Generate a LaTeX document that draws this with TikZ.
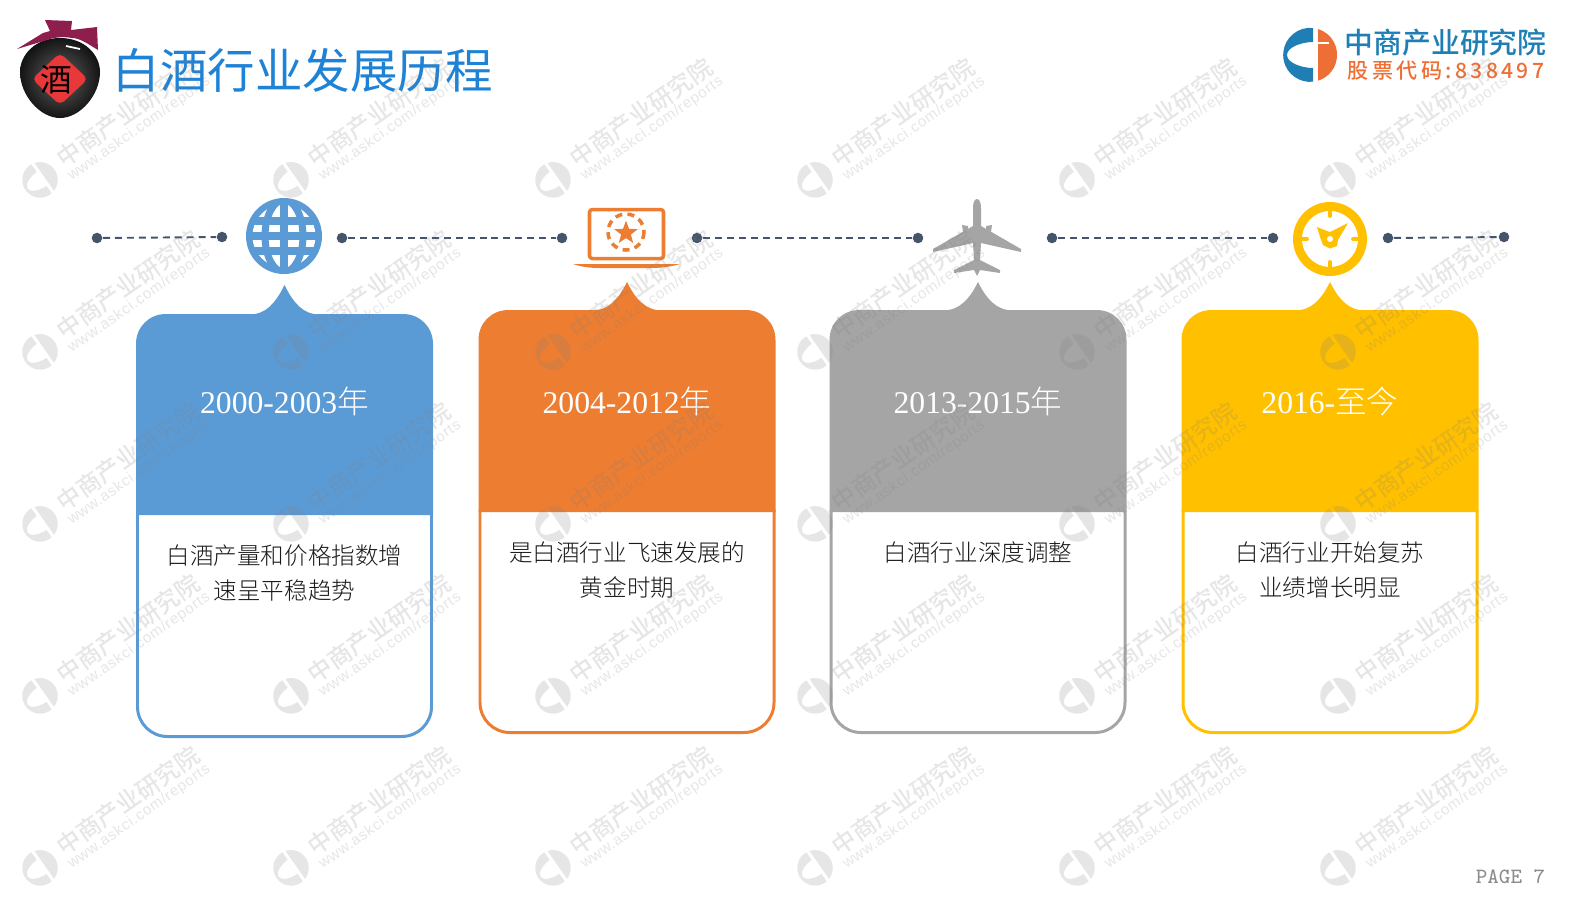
\documentclass[tikz,border=0pt]{standalone}
\usepackage{fontspec}
\usepackage{xcolor}
\usetikzlibrary{shapes.geometric}
\setmainfont{Liberation Serif}
\newfontfamily\cjk{Noto Sans CJK SC Light}
\newfontfamily\cjkmid{Noto Sans CJK SC}
\newfontfamily\cjkbold{Noto Sans CJK SC Medium}
\newfontfamily\cjkspaced[LetterSpace=16]{Noto Sans CJK SC Medium}
\newfontfamily\urlfont[LetterSpace=5]{Liberation Sans}
\definecolor{mblue}{HTML}{5B9BD5}
\definecolor{morange}{HTML}{ED7D31}
\definecolor{mgray}{HTML}{A5A5A5}
\definecolor{myellow}{HTML}{FFC000}
\definecolor{linegray}{HTML}{44546A}
\definecolor{titleblue}{HTML}{1E83D6}
\definecolor{logoblue}{HTML}{1F7FB5}
\definecolor{logoorange}{HTML}{EE6F35}
\definecolor{jarcloth}{HTML}{8E1F4C}
\definecolor{jarred}{HTML}{E8383A}
\tikzset{
  dotnode/.style = {circle, fill = linegray, inner sep = 0pt, minimum size = 3pt},
  timeline/.style = {linegray, line width = 0.55pt, dash pattern = on 2pt off 1.4pt},
  yearlabel/.style = {white, font = \fontsize{9}{11}\selectfont},
  bodylabel/.style = {black!90, align = center, font = \cjk\fontsize{6.7}{9.7}\selectfont},
  wmark/.style = {gray, opacity = 0.2},
}
\newcommand{\logomark}[2]{
  \fill[#1] (3,-27) arc[start angle = -84, end angle = -276, radius = 27] -- (3,13)
    .. controls (-8,13) and (-23,8) .. (-23,0) .. controls (-23,-8) and (-8,-13) .. (3,-13) -- cycle;
  \fill[#2] (8,-26) arc[start angle = -73, end angle = 73, radius = 27] -- cycle;
}
\begin{document}
\begin{tikzpicture}[x = 0.01cm, y = -0.01cm]
\useasboundingbox (0,0) rectangle (1587,914);

% jar
\shade[inner color = black!62, outer color = black!92] (60,38) .. controls (85,38) and (100,55) .. (100,72) .. controls (100,95) and (80,118) .. (60,118)
  .. controls (40,118) and (20,95) .. (20,72) .. controls (20,55) and (35,38) .. (60,38);
\fill[jarcloth] (45,20) -- (72,21) -- (71,30) -- (97,27) -- (98,50) .. controls (88,44) and (80,38) .. (72,38) .. controls (62,36) and (52,38) .. (47,40) -- (17,49) -- (43,33) -- (50,31) -- cycle;
\draw[white, line width = 0.5pt] (66,46) -- (80,49);
\fill[jarred, rounded corners = 1.5pt] (60,53) -- (88,79) -- (60,105) -- (32,79) -- cycle;
\node (jarmark) at (56,80) {\cjkmid\fontsize{9}{9}\selectfont 酒};
\node[titleblue, anchor = west, inner sep = 0pt] (title) at (112,70) {\cjkmid\fontsize{13.5}{15}\selectfont 白酒行业发展历程};

% company mark
\begin{scope}[shift = {(1310,55)}]
\logomark{logoblue}{logoorange}
\draw[white, line width = 0.4pt] (8,-12) -- (19,-12);
\end{scope}
\node[logoblue, anchor = west, inner sep = 0pt] (company) at (1344,43) {\cjkbold\fontsize{8.2}{10}\selectfont 中商产业研究院};
\node[logoorange, anchor = west, inner sep = 0pt] (stock) at (1347,71) {\cjkspaced\fontsize{6}{8}\selectfont 股票代码:838497};

% timeline
\node[dotnode] (d1) at (97,238) {};
\node[dotnode] (d2) at (222,237) {};
\node[dotnode] (d3) at (342,238) {};
\node[dotnode] (d4) at (562,238) {};
\node[dotnode] (d5) at (697,238) {};
\node[dotnode] (d6) at (918,238) {};
\node[dotnode] (d7) at (1052,238) {};
\node[dotnode] (d8) at (1273,238) {};
\node[dotnode] (d9) at (1388,238) {};
\node[dotnode] (d10) at (1504,237) {};
\draw[timeline] (d1) -- (d2);
\draw[timeline] (d3) -- (d4);
\draw[timeline] (d5) -- (d6);
\draw[timeline] (d7) -- (d8);
\draw[timeline] (d9) -- (d10);

% globe
\begin{scope}[shift = {(284,236)}]
\fill[mblue] (0,0) circle (38);
\fill[white] (0,0) circle (31.5);
\begin{scope}
\clip (0,0) circle (33);
\draw[mblue, line width = 2pt] (0,-38) -- (0,38) (-38,-15) -- (38,-15) (-38,0) -- (38,0) (-38,15) -- (38,15);
\draw[mblue, line width = 2pt] (0,0) ellipse (19 and 36);
\draw[mblue, line width = 1.8pt] (-34,-23) -- (-15,-33) (34,-23) -- (15,-33) (-34,23) -- (-15,33) (34,23) -- (15,33);
\end{scope}
\end{scope}

% laptop
\draw[morange, line width = 1pt, rounded corners = 0.8pt] (589.5,209.5) rectangle (663.5,258.5);
\fill[morange] (573,264) -- (680,264) .. controls (670,267) and (660,268) .. (650,268) -- (600,268) .. controls (590,268) and (582,267) .. (573,264) -- cycle;
\draw[morange, line width = 1pt, dash pattern = on 2pt off 1.5pt] (626,232) circle (18);
\node[star, star points = 5, star point ratio = 2.4, fill = morange, inner sep = 0pt, minimum size = 7pt] (laptopstar) at (626,233) {};

% plane
\fill[mgray] (977,199) .. controls (980,199) and (981,204) .. (981,208) -- (981,226) -- (1021,249) -- (1021,252) -- (981,243)
  -- (980,260) -- (1000,270) -- (1000,273) -- (980,270) -- (977,276) -- (974,270) -- (954,273) -- (954,270) -- (974,260)
  -- (973,243) -- (933,252) -- (933,249) -- (973,226) -- (973,208) .. controls (973,204) and (974,199) .. (977,199) -- cycle;
\fill[mgray] (962,225) -- (968,226) -- (968,230) -- (963,232) -- cycle (992,225) -- (986,226) -- (986,230) -- (991,232) -- cycle;

% clock
\begin{scope}[shift = {(1330,239)}]
\draw[myellow, line width = 2.55pt] (0,0) circle (32.5);
\draw[myellow, line width = 1.1pt, line cap = round] (0,-28) -- (0,-23) (0,28) -- (0,23) (-28,0) -- (-23,0) (28,0) -- (23,0);
\fill[myellow] (-13,-12) -- (-3,-8) -- (0,-7) -- (18,-16) -- (8,1) -- (7,7) -- (0,9.5) -- (-7,6) -- (-10,-2) -- cycle;
\fill[white] (0,0) circle (3);
\end{scope}

% cards
\foreach \cname/\cx/\ytop/\ytip/\ybar/\ybot/\col/\ty/\years/\body in {
  a/284.5/314/285/515/738/mblue/573/2000-2003{\cjk 年}/{白酒产量和价格指数增\\速呈平稳趋势},
  b/627/310/282/512/734/morange/570/2004-2012{\cjk 年}/{是白酒行业飞速发展的\\黄金时期},
  c/978/310/282/512/734/mgray/553/2013-2015{\cjk 年}/{白酒行业深度调整},
  d/1330/310/282/512/734/myellow/570/2016-{\cjk 至今}/{白酒行业开始复苏\\业绩增长明显}}{
  \draw[\col, line width = 0.85pt, fill = white, rounded corners = 8.5pt] (\cx-147,\ybar-2) -- (\cx-147,\ybot-1.5) -- (\cx+147,\ybot-1.5) -- (\cx+147,\ybar-2);
  \fill[\col] (\cx-148.5,\ybar) -- (\cx-148.5,\ytop+30) .. controls (\cx-148.5,\ytop+13) and (\cx-135.5,\ytop) .. (\cx-118.5,\ytop)
    -- (\cx-30,\ytop) .. controls (\cx-14,\ytop-2) and (\cx-5,\ytip+10) .. (\cx,\ytip)
    .. controls (\cx+5,\ytip+10) and (\cx+14,\ytop-2) .. (\cx+30,\ytop)
    -- (\cx+118.5,\ytop) .. controls (\cx+135.5,\ytop) and (\cx+148.5,\ytop+13) .. (\cx+148.5,\ytop+30) -- (\cx+148.5,\ybar) -- cycle;
  \node[yearlabel] (year\cname) at (\cx,401) {\years};
  \node[bodylabel] (body\cname) at (\cx,\ty) {\body};
}

\node[gray!90, anchor = east, inner sep = 0pt] (page) at (1546,877) {\fontsize{6.2}{8}\selectfont\ttfamily PAGE 7};

% watermark
\foreach \wx in {40,291,553,815,1077,1338}{
  \foreach \wy in {180,352,524,696,868}{
    \begin{scope}[shift = {(\wx,\wy)}, rotate = 35, scale = 0.66, opacity = 0.2]
    \logomark{gray}{gray}
    \end{scope}
    \node[wmark, rotate = 35, anchor = west, inner sep = 0pt] (wa\wx-\wy) at (\wx+19,\wy-19) {\cjkbold\fontsize{6.8}{8}\selectfont 中商产业研究院};
    \node[wmark, rotate = 35, anchor = west, inner sep = 0pt] (wb\wx-\wy) at (\wx+29,\wy-2) {\urlfont\fontsize{4.3}{6}\selectfont www.askci.com/reports};
  }
}
\end{tikzpicture}
\end{document}
